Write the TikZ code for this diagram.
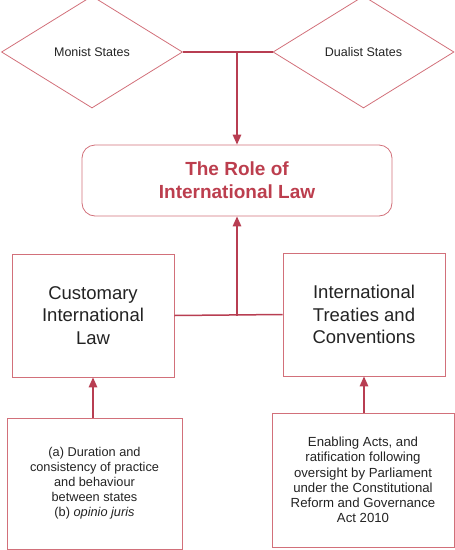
\documentclass[tikz,border=0pt]{standalone}
\usepackage{fontspec}
\setmainfont{Liberation Sans}
\usepackage{xcolor}
\usetikzlibrary{shapes.geometric, arrows.meta, positioning}

\definecolor{boxred}{RGB}{210,112,122}
\definecolor{linered}{RGB}{184,62,82}
\definecolor{titlered}{RGB}{188,62,78}
\definecolor{txtgray}{RGB}{35,35,35}

\tikzset{
  statediamond/.style={diamond, draw=boxred, line width=0.8pt, aspect=1.6,
    minimum width=181pt, minimum height=112pt, inner sep=0pt,
    text=txtgray, font=\fontsize{12.5}{15}\selectfont},
  rolebox/.style={draw=boxred, line width=0.8pt, rounded corners=13pt,
    minimum width=310pt, minimum height=71pt, align=center,
    text=titlered, font=\fontsize{19}{22.7}\selectfont\bfseries},
  sourcebox/.style={draw=boxred, line width=0.8pt, minimum width=162pt,
    minimum height=123pt, align=center, text=txtgray,
    font=\fontsize{18.5}{22.5}\selectfont},
  notebox/.style={draw=boxred, line width=0.8pt, align=center, text=txtgray},
  link/.style={draw=linered, line width=1.5pt},
  uparrow/.style={link, -{Triangle[length=10pt, width=8.5pt]}}
}

\begin{document}
\begin{tikzpicture}[x=1pt, y=1pt]
  \useasboundingbox (0,0) rectangle (455,-550);

  % Tipos de estados
  \node[statediamond] (monist) at (92,-52) {Monist States};
  \node[statediamond] (dualist) at (363.5,-52) {Dualist States};

  % Caixa central
  \node[rolebox] (role) at (237,-180.5) {The Role of\\International Law};

  % Fontes do direito
  \node[sourcebox] (custom) at (93,-315.5) {Customary\\International\\Law};
  \node[sourcebox] (treaty) at (364,-314.5) {International\\Treaties and\\Conventions};

  % Notas de baixo
  \node[notebox, minimum width=175pt, minimum height=131pt,
        font=\fontsize{12.75}{15}\selectfont] (practice) at (94.5,-483.5)
    {(a) Duration and\\consistency of practice\\and behaviour\\between states\\(b) \textit{opinio juris}};
  \node[notebox, minimum width=182pt, minimum height=134pt,
        font=\fontsize{13.2}{15.3}\selectfont] (enabling) at (363,-480)
    {Enabling Acts, and\\ratification following\\oversight by Parliament\\under the Constitutional\\Reform and Governance\\Act 2010};

  % Ligacoes de cima
  \draw[link] (monist.east) -- (dualist.west);
  \draw[uparrow] (role.north |- monist.east) -- (role.north);

  % Ligacoes do meio
  \draw[link] (custom.east) -- (treaty.west);
  \draw[uparrow] (role.south |- custom.east) -- (role.south);

  % Setas de baixo
  \draw[uparrow] (practice.north -| custom.south) -- (custom.south);
  \draw[uparrow] (enabling.north -| treaty.south) -- (treaty.south);
\end{tikzpicture}
\end{document}
